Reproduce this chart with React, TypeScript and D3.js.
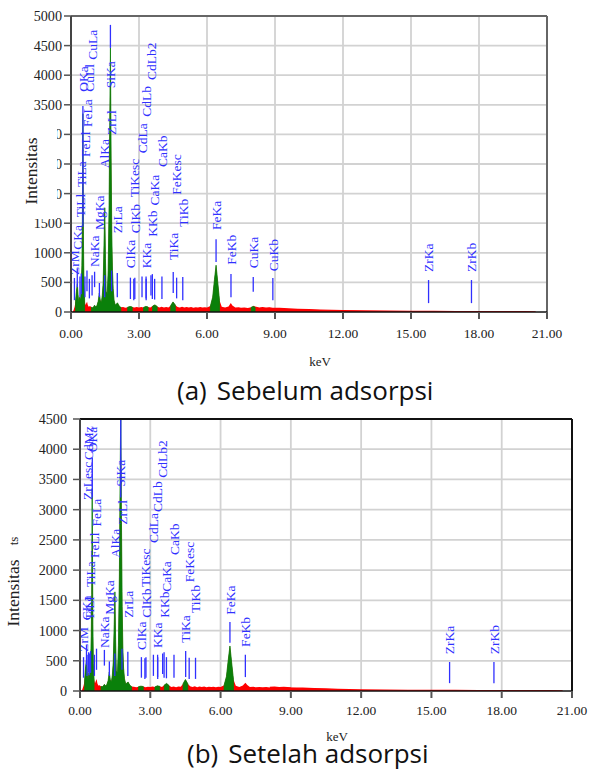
import React from 'react';
import * as d3 from 'd3';

// ---------- data ----------
const xTickValues = [0, 3, 6, 9, 12, 15, 18, 21];
const xTickLabels = ['0.00', '3.00', '6.00', '9.00', '12.00', '15.00', '18.00', '21.00'];
const yTicksBefore = [0, 500, 1000, 1500, 2000, 2500, 3000, 3500, 4000, 4500, 5000];
const yTicksAfter = [0, 500, 1000, 1500, 2000, 2500, 3000, 3500, 4000, 4500];

// [keV, counts]
const spectrumBefore: [number, number][] = [
  [0, 0], [0.08, 5], [0.12, 40], [0.16, 90], [0.2, 180], [0.24, 350], [0.28, 480], [0.31, 300], [0.34, 150],
  [0.38, 250], [0.42, 200], [0.45, 350], [0.48, 780], [0.5, 1400], [0.525, 3350], [0.55, 1200], [0.57, 500],
  [0.6, 200], [0.64, 120], [0.68, 150], [0.71, 175], [0.74, 120], [0.78, 90], [0.84, 100], [0.9, 80],
  [0.95, 70], [1.0, 90], [1.04, 115], [1.08, 90], [1.14, 100], [1.2, 180], [1.25, 320], [1.29, 200],
  [1.34, 160], [1.38, 280], [1.42, 500], [1.46, 1200], [1.49, 1760], [1.52, 900], [1.55, 350], [1.6, 300],
  [1.64, 700], [1.68, 1800], [1.71, 3200], [1.74, 4460], [1.77, 2600], [1.8, 1300], [1.83, 700], [1.86, 400],
  [1.9, 200], [1.95, 120], [2.0, 130], [2.05, 155], [2.1, 120], [2.15, 90], [2.2, 80], [2.3, 85], [2.4, 72],
  [2.5, 82], [2.6, 92], [2.7, 85], [2.8, 74], [2.9, 86], [3.0, 76], [3.1, 84], [3.2, 78], [3.3, 95],
  [3.4, 85], [3.5, 74], [3.6, 100], [3.7, 120], [3.8, 95], [3.9, 78], [4.0, 88], [4.1, 74], [4.2, 84],
  [4.3, 78], [4.4, 110], [4.5, 170], [4.6, 120], [4.7, 85], [4.8, 76], [4.9, 90], [5.0, 74], [5.1, 84],
  [5.2, 78], [5.3, 86], [5.4, 72], [5.5, 82], [5.6, 76], [5.7, 84], [5.8, 74], [5.9, 80], [6.0, 76],
  [6.15, 100], [6.25, 250], [6.33, 550], [6.4, 790], [6.47, 520], [6.55, 200], [6.65, 90], [6.8, 76],
  [6.95, 95], [7.05, 150], [7.12, 110], [7.25, 74], [7.4, 80], [7.5, 70], [7.65, 76], [7.8, 68],
  [7.95, 80], [8.04, 95], [8.12, 80], [8.3, 66], [8.45, 72], [8.6, 64], [8.75, 70], [8.9, 62], [9.2, 58],
  [9.6, 50], [10, 45], [10.5, 38], [11, 32], [11.5, 27], [12, 22], [13, 16], [14, 13], [15, 10], [16, 8],
  [17, 7], [18, 6], [19, 5], [20, 4], [20.5, 0],
];

const spectrumAfter: [number, number][] = [
  [0, 0], [0.08, 10], [0.12, 50], [0.16, 100], [0.2, 200], [0.24, 400], [0.28, 520], [0.31, 300], [0.34, 180],
  [0.38, 300], [0.42, 250], [0.45, 400], [0.48, 900], [0.5, 1600], [0.52, 3350], [0.55, 1100], [0.57, 450],
  [0.6, 200], [0.64, 130], [0.68, 170], [0.71, 200], [0.74, 130], [0.78, 90], [0.84, 95], [0.9, 75],
  [0.95, 70], [1.0, 85], [1.04, 110], [1.08, 85], [1.14, 100], [1.2, 170], [1.25, 315], [1.29, 190],
  [1.34, 150], [1.38, 260], [1.42, 480], [1.46, 1100], [1.49, 1640], [1.52, 850], [1.55, 330], [1.6, 300],
  [1.64, 750], [1.68, 1900], [1.71, 3400], [1.74, 4700], [1.77, 2800], [1.8, 1400], [1.83, 700], [1.86, 380],
  [1.9, 200], [1.95, 120], [2.0, 130], [2.05, 150], [2.1, 115], [2.15, 85], [2.2, 75], [2.3, 72], [2.4, 64],
  [2.5, 72], [2.6, 80], [2.7, 74], [2.8, 64], [2.9, 72], [3.0, 66], [3.1, 74], [3.2, 68], [3.3, 85],
  [3.4, 78], [3.5, 66], [3.6, 100], [3.7, 125], [3.8, 90], [3.9, 68], [4.0, 76], [4.1, 64], [4.2, 74],
  [4.3, 70], [4.4, 120], [4.5, 190], [4.6, 120], [4.7, 78], [4.8, 66], [4.9, 78], [5.0, 64], [5.1, 74],
  [5.2, 68], [5.3, 76], [5.4, 62], [5.5, 72], [5.6, 66], [5.7, 72], [5.8, 64], [5.9, 70], [6.0, 66],
  [6.15, 95], [6.25, 240], [6.33, 520], [6.4, 745], [6.47, 480], [6.55, 190], [6.65, 85], [6.8, 68],
  [6.95, 90], [7.06, 135], [7.14, 100], [7.25, 66], [7.4, 70], [7.5, 62], [7.65, 68], [7.8, 60],
  [7.95, 66], [8.1, 58], [8.3, 64], [8.5, 56], [8.7, 60], [9.0, 52], [9.5, 45], [10, 38], [10.5, 32],
  [11, 27], [11.5, 22], [12, 18], [13, 14], [14, 11], [15, 9], [16, 8], [17, 7], [18, 6], [19, 5],
  [20, 4], [20.6, 0],
];

// regions drawn in green [from keV, to keV]
const roisBefore: [number, number][] = [
  [0.18, 0.62], [0.9, 2.22], [2.5, 2.75], [3.2, 3.42], [3.55, 3.85], [4.35, 4.68], [6.15, 6.62], [7.92, 8.18],
];
const roisAfter: [number, number][] = [
  [0.18, 0.62], [0.9, 2.22], [2.5, 2.75], [3.2, 3.42], [3.55, 3.85], [4.35, 4.68], [6.15, 6.62],
];

// [label, keV, label base (counts), line top (counts), line bottom (counts)]
const markersBefore: [string, number, number, number, number][] = [
  ['ZrM', 0.151, 625, 575, 200], ['CKa', 0.277, 1050, 740, 420], ['TiLl', 0.395, 1600, 600, 250],
  ['TiLa', 0.452, 2110, 650, 300], ['OKa', 0.525, 3720, 3480, 1440], ['FeLl', 0.615, 2620, 600, 250],
  ['FeLa', 0.705, 3125, 700, 350], ['CuLl', 0.811, 3720, 560, 230], ['CuLa', 0.93, 4260, 620, 280],
  ['NaKa', 1.041, 760, 680, 420], ['MgKa', 1.253, 1385, 490, 250], ['AlKa', 1.486, 2430, 620, 250],
  ['SiKa', 1.739, 3780, 4850, 4460], ['ZrLl', 1.792, 2990, 700, 350], ['ZrLa', 2.042, 1330, 660, 250],
  ['ClKa', 2.621, 740, 580, 220], ['TiKesc', 2.77, 1940, 560, 200], ['ClKb', 2.815, 1330, 580, 220],
  ['CdLa', 3.133, 2680, 600, 250], ['KKa', 3.312, 740, 600, 230], ['CdLb', 3.316, 3300, 560, 200],
  ['CdLb2', 3.528, 3920, 620, 280], ['KKb', 3.589, 1270, 640, 220], ['CaKa', 3.69, 1800, 560, 210],
  ['CaKb', 4.012, 2450, 600, 220], ['TiKa', 4.51, 880, 675, 320], ['FeKesc', 4.66, 1980, 580, 230],
  ['TiKb', 4.931, 1440, 590, 200], ['FeKa', 6.4, 1385, 1230, 845], ['FeKb', 7.058, 800, 640, 250],
  ['CuKa', 8.04, 740, 590, 340], ['CuKb', 8.905, 690, 575, 200], ['ZrKa', 15.775, 675, 540, 150],
  ['ZrKb', 17.668, 675, 540, 150],
];

const markersAfter: [string, number, number, number, number][] = [
  ['ZrM', 0.151, 650, 560, 220], ['CKa', 0.277, 1170, 760, 430], ['TiLl', 0.395, 1170, 620, 260],
  ['TiLa', 0.452, 1720, 660, 300], ['ZrLesc', 0.302, 3160, 600, 250], ['CdMz', 0.37, 3820, 640, 300],
  ['OKa', 0.525, 3950, 3860, 3200], ['FeLl', 0.615, 2200, 600, 250], ['FeLa', 0.705, 2720, 700, 350],
  ['NaKa', 1.041, 710, 680, 420], ['MgKa', 1.253, 1260, 490, 250], ['AlKa', 1.486, 2200, 620, 250],
  ['SiKa', 1.739, 3380, 4500, 3200], ['ZrLl', 1.792, 2750, 700, 350], ['ZrLa', 2.042, 1210, 650, 250],
  ['ClKa', 2.621, 680, 560, 220], ['TiKesc', 2.77, 1720, 540, 200], ['ClKb', 2.815, 1210, 560, 220],
  ['CdLa', 3.133, 2450, 600, 250], ['KKa', 3.312, 710, 600, 230], ['CdLb', 3.316, 2960, 560, 200],
  ['CdLb2', 3.528, 3530, 620, 280], ['KKb', 3.589, 1210, 640, 220], ['CaKa', 3.69, 1640, 560, 210],
  ['CaKb', 4.012, 2250, 600, 220], ['TiKa', 4.51, 800, 660, 230], ['FeKesc', 4.66, 1800, 550, 200],
  ['TiKb', 4.931, 1290, 550, 200], ['FeKa', 6.4, 1260, 1140, 800], ['FeKb', 7.058, 730, 600, 230],
  ['ZrKa', 15.775, 610, 480, 130], ['ZrKb', 17.668, 610, 480, 130],
];

// ---------- styles ----------
const SERIF = "'Liberation Serif', 'Times New Roman', serif";
const SANS = "'Open Sans', 'Noto Sans', sans-serif";
const BLUE = '#3030ff';
const GREEN = '#0a800a';
const RED = '#ff0000';
const GRID = '#d2d2d2';

type Box = { l: number; r: number; t: number; b: number };
type Pt = { e: number; c: number };

function Chart(props: {
  id: string;
  spec: [number, number][];
  rois: [number, number][];
  markers: [string, number, number, number, number][];
  box: Box;
  yTicks: number[];
  yMax: number;
  yLabelX: number;
  xLabelY: number;
  kev: [number, number];
  frameColor: string;
}) {
  const { id, spec, rois, markers, box, yTicks, yMax, yLabelX, xLabelY, kev, frameColor } = props;
  const x = d3.scaleLinear().domain([0, 21]).range([box.l, box.r]);
  const y = d3.scaleLinear().domain([0, yMax]).range([box.b, box.t]);
  const pts: Pt[] = spec.map(([e, c]) => ({ e, c }));
  const redArea = d3.area<Pt>().x((d) => x(d.e)).y0(y(0)).y1((d) => y(d.c));
  const redTail = d3
    .line<Pt>()
    .defined((d) => d.e >= 8)
    .x((d) => x(d.e))
    .y((d) => y(d.c));
  const inRoi = (e: number) => rois.some(([a, b]) => e >= a && e <= b);
  const greenArea = d3
    .area<Pt>()
    .defined((d) => inRoi(d.e))
    .x((d) => x(d.e))
    .y0(y(0))
    .y1((d) => y(d.c));

  return (
    <g>
      <defs>
        <clipPath id={id}>
          <rect x={box.l} y={box.t} width={box.r - box.l} height={box.b - box.t} />
        </clipPath>
      </defs>
      {/* grid */}
      {xTickValues.slice(1, -1).map((v) => (
        <line key={'gx' + v} x1={x(v)} x2={x(v)} y1={box.t} y2={box.b} stroke={GRID} strokeWidth={1.8} />
      ))}
      {yTicks.slice(1, -1).map((v) => (
        <line key={'gy' + v} x1={box.l} x2={box.r} y1={y(v)} y2={y(v)} stroke={GRID} strokeWidth={1.8} />
      ))}
      <g clipPath={`url(#${id})`}>
        <path d={redArea(pts) || ''} fill={RED} />
        <path d={redTail(pts) || ''} fill="none" stroke={RED} strokeWidth={1.4} />
        <path d={greenArea(pts) || ''} fill={GREEN} stroke={GREEN} strokeWidth={0.8} />
        {markers.map(([lab, e, , t, b]) => (
          <line key={'ml' + lab} x1={x(e)} x2={x(e)} y1={y(t)} y2={y(b)} stroke={BLUE} strokeWidth={1.3} />
        ))}
      </g>
      {markers.map(([lab, e, base]) => (
        <text
          key={'mt' + lab}
          transform={`translate(${x(e)},${y(base)}) rotate(-90)`}
          dy="0.35em"
          fontFamily={SERIF}
          fontSize={13.5}
          fill={BLUE}
        >
          {lab}
        </text>
      ))}
      {/* frame */}
      <line x1={box.l} x2={box.r} y1={box.t} y2={box.t} stroke={frameColor} strokeWidth={2} />
      <line x1={box.r} x2={box.r} y1={box.t} y2={box.b} stroke={frameColor} strokeWidth={2} />
      <line x1={box.l} x2={box.l} y1={box.t} y2={box.b + 1} stroke="#444" strokeWidth={2} />
      <line x1={box.l} x2={box.r} y1={box.b} y2={box.b} stroke="#111" strokeWidth={1.5} />
      {/* ticks */}
      {xTickValues.map((v, i) => (
        <g key={'xt' + v}>
          <line x1={x(v)} x2={x(v)} y1={box.b} y2={box.b + 7} stroke="#555" strokeWidth={2} />
          <text x={x(v)} y={xLabelY} textAnchor="middle" fontFamily={SERIF} fontSize={13.5} fill="#222">
            {xTickLabels[i]}
          </text>
        </g>
      ))}
      {yTicks.map((v) => (
        <g key={'yt' + v}>
          <line x1={box.l - 7} x2={box.l} y1={y(v)} y2={y(v)} stroke="#555" strokeWidth={1.5} />
          <text x={yLabelX} y={y(v)} dy="0.35em" textAnchor="end" fontFamily={SERIF} fontSize={14.2} fill="#222">
            {v}
          </text>
        </g>
      ))}
      <text x={kev[0]} y={kev[1]} textAnchor="middle" fontFamily={SERIF} fontSize={13} fill="#222">
        keV
      </text>
    </g>
  );
}

export default function App() {
  return (
    <svg
      width={589}
      height={771}
      viewBox="0 0 589 771"
      style={{ position: 'absolute', left: 0, top: 0, background: '#fff' }}
    >
      <rect x={0} y={0} width={589} height={771} fill="#fff" />
      <Chart
        id="clipA"
        spec={spectrumBefore}
        rois={roisBefore}
        markers={markersBefore}
        box={{ l: 71, r: 547, t: 16, b: 312 }}
        yTicks={yTicksBefore}
        yMax={5000}
        yLabelX={62}
        xLabelY={338}
        kev={[320, 366]}
        frameColor="#666"
      />
      {/* box hiding part of the y labels behind the axis title */}
      <rect x={18} y={112} width={39} height={107} fill="#fff" />
      <text
        transform="translate(31,171) rotate(-90)"
        dy="0.35em"
        textAnchor="middle"
        fontFamily={SERIF}
        fontSize={17.5}
        fill="#222"
      >
        Intensitas
      </text>
      <text x={177} y={400} fontFamily={SANS} fontSize={26} fill="#111">
        (a)<tspan dx={10}>Sebelum adsorpsi</tspan>
      </text>

      <Chart
        id="clipB"
        spec={spectrumAfter}
        rois={roisAfter}
        markers={markersAfter}
        box={{ l: 80, r: 572, t: 419, b: 691 }}
        yTicks={yTicksAfter}
        yMax={4500}
        yLabelX={67}
        xLabelY={715}
        kev={[337, 741]}
        frameColor="#111"
      />
      <text
        transform="translate(13,541) rotate(-90)"
        dy="0.35em"
        textAnchor="middle"
        fontFamily={SERIF}
        fontSize={13}
        fill="#222"
      >
        ts
      </text>
      <text
        transform="translate(13,593) rotate(-90)"
        dy="0.35em"
        textAnchor="middle"
        fontFamily={SERIF}
        fontSize={17.5}
        fill="#222"
      >
        Intensitas
      </text>
      <text x={187} y={763} fontFamily={SANS} fontSize={26} fill="#111">
        (b)<tspan dx={10}>Setelah adsorpsi</tspan>
      </text>
    </svg>
  );
}
